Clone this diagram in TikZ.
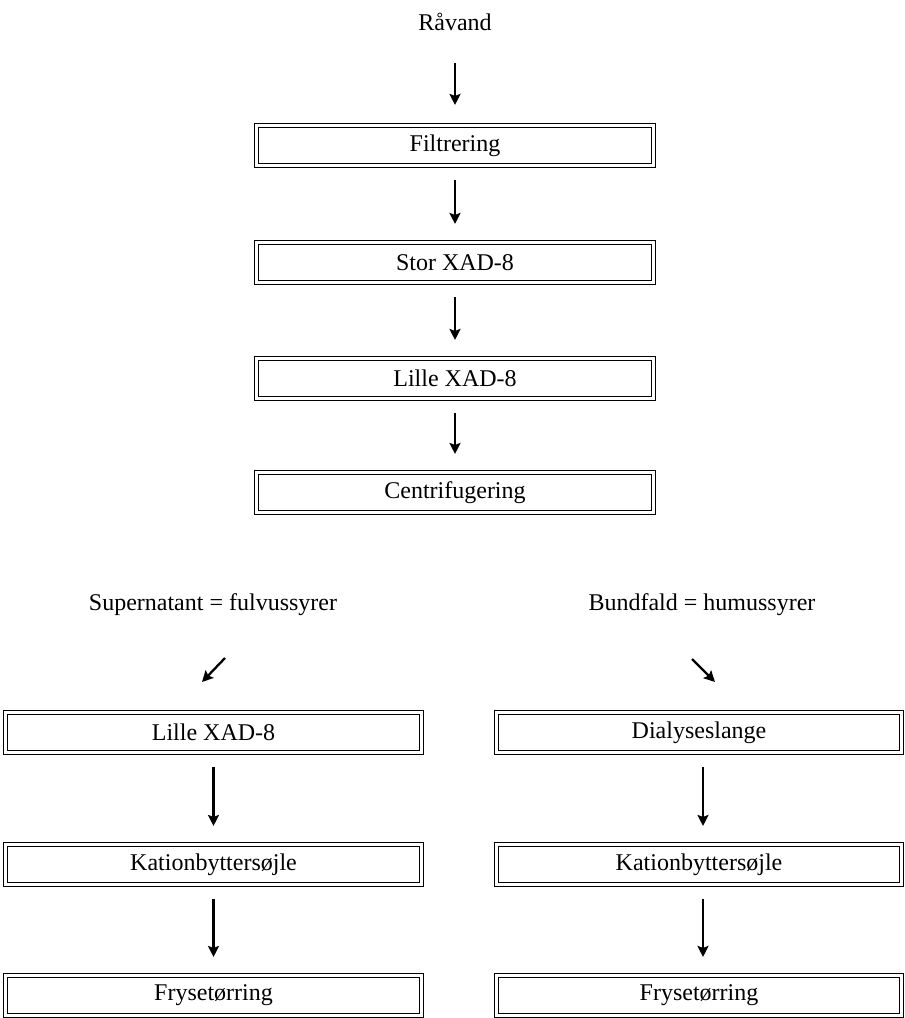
\documentclass[tikz,border=0pt]{standalone}
\usepackage{fontspec}
\setmainfont{Liberation Serif}
\usetikzlibrary{arrows.meta}
\begin{document}
\begin{tikzpicture}[x=1pt,y=-1pt,
  box/.style={draw, double, double distance=2.8pt, line width=1.1pt, minimum height=40pt, inner sep=0pt, font=\fontsize{24}{28}\selectfont},
  topbox/.style={box, minimum width=397pt},
  leftbox/.style={box, minimum width=416pt},
  rightbox/.style={box, minimum width=405pt},
  lbl/.style={font=\fontsize{24}{28}\selectfont, inner sep=0pt},
  arr/.style={line width=2.3pt, -{Stealth[length=11pt,width=11pt,inset=2pt]}, shorten <=14pt, shorten >=18pt}]
\useasboundingbox (0,0) rectangle (905,1018);
% main column
\node[lbl] (raw) at (455,22) {Råvand};
\node[topbox] (f) at (455,145.5) {Filtrering};
\node[topbox] (s) at (455,262.5) {Stor XAD-8};
\node[topbox] (l) at (455,378.5) {Lille XAD-8};
\node[topbox] (c) at (455,492.5) {Centrifugering};
\node[lbl] (sup) at (213,605) {Supernatant = fulvussyrer};
\node[lbl] (bund) at (702,605) {Bundfald = humussyrer};
% left column
\node[leftbox] (l1) at (213.5,732.5) {Lille XAD-8};
\node[leftbox] (l2) at (213.5,864.5) {Kationbyttersøjle};
\node[leftbox] (l3) at (213.5,995.5) {Frysetørring};
% right column
\node[rightbox] (r1) at (699,732.5) {Dialyseslange};
\node[rightbox] (r2) at (699,864.5) {Kationbyttersøjle};
\node[rightbox] (r3) at (699,995.5) {Frysetørring};
% arrows
\draw[arr, shorten <=32pt, shorten >=20pt] (raw.south) -- (f.north);
\draw[arr] (f.south) -- (s.north);
\draw[arr] (s.south) -- (l.north);
\draw[arr] (l.south) -- (c.north);
\coordinate (la) at (225,658);
\coordinate (lb) at (202,682);
\coordinate (ra) at (692,659);
\coordinate (rb) at (715,682);
\draw[arr, shorten <=0pt, shorten >=0pt] (la) -- (lb);
\draw[arr, shorten <=0pt, shorten >=0pt] (ra) -- (rb);
\draw[arr] (l1.south) -- (l2.north);
\draw[arr] (l2.south) -- (l3.north);
\draw[arr] ([xshift=4pt]r1.south) -- ([xshift=4pt]r2.north);
\draw[arr] ([xshift=4pt]r2.south) -- ([xshift=4pt]r3.north);
\end{tikzpicture}
\end{document}
